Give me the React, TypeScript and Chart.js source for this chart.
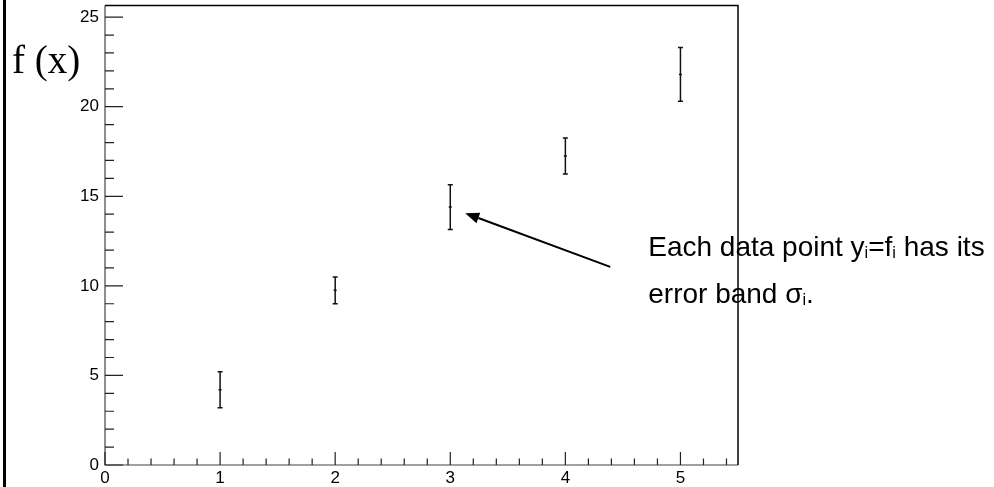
import React, { useEffect, useRef } from "react";
import { Chart, registerables } from "chart.js";

Chart.register(...registerables);

// ---- data ----
const xValues = [1, 2, 3, 4, 5];
const yValues = [4.2, 9.75, 14.4, 17.25, 21.8];
const yErrors = [1.0, 0.75, 1.25, 1.0, 1.5];

const xTickLabels = ["0", "1", "2", "3", "4", "5"];
const yTickLabels = ["0", "5", "10", "15", "20", "25"];
const xMinorStep = 0.2;
const yMinorStep = 1;

const yAxisTitle = "f (x)";
const noteLine1 = [
  { t: "Each data point y" },
  { t: "i", sub: true },
  { t: "=f" },
  { t: "i", sub: true },
  { t: " has its" },
];
const noteLine2 = [{ t: "error band σ" }, { t: "i", sub: true }, { t: "." }];
// annotation anchors in data coordinates
const noteAnchor = { x: 4.72, y: 11.68 };
const noteLineGap = 2.62;
const arrowTail = { x: 4.39, y: 11.06 };
const arrowHead = { x: 3.13, y: 14.06 };

const SANS = '"Liberation Sans", Arial, sans-serif';
const SERIF = '"Liberation Serif", "Times New Roman", serif';

function drawRich(ctx: CanvasRenderingContext2D, parts: any[], x: number, baseline: number, size: number) {
  let cx = x;
  ctx.textBaseline = "alphabetic";
  ctx.textAlign = "left";
  for (const p of parts) {
    const s = p.sub ? size * 0.58 : size;
    ctx.font = `${s}px ${SANS}`;
    ctx.fillText(p.t, cx, baseline + (p.sub ? 2 : 0));
    cx += ctx.measureText(p.t).width;
  }
}

const rootStyle = {
  id: "rootStyle",
  beforeDraw(chart: any) {
    const ctx = chart.ctx as CanvasRenderingContext2D;
    ctx.save();
    ctx.fillStyle = "#fff";
    ctx.fillRect(0, 0, chart.width, chart.height);
    ctx.fillStyle = "#000";
    ctx.fillRect(3, 0, 3, chart.height);
    ctx.restore();
  },
  afterDatasetsDraw(chart: any) {
    const ctx = chart.ctx as CanvasRenderingContext2D;
    const xs = chart.scales.x;
    const ys = chart.scales.y;
    ctx.save();
    ctx.strokeStyle = "#111";
    ctx.lineWidth = 1.5;
    for (let i = 0; i < xValues.length; i++) {
      const px = xs.getPixelForValue(xValues[i]);
      const top = ys.getPixelForValue(yValues[i] + yErrors[i]);
      const bot = ys.getPixelForValue(yValues[i] - yErrors[i]);
      ctx.beginPath();
      ctx.moveTo(px, top);
      ctx.lineTo(px, bot);
      ctx.moveTo(px - 2.5, top);
      ctx.lineTo(px + 2.5, top);
      ctx.moveTo(px - 2.5, bot);
      ctx.lineTo(px + 2.5, bot);
      ctx.stroke();
    }
    ctx.restore();
  },
  afterDraw(chart: any) {
    const ctx = chart.ctx as CanvasRenderingContext2D;
    const xs = chart.scales.x;
    const ys = chart.scales.y;
    const a = chart.chartArea;
    ctx.save();

    // annotation text
    ctx.fillStyle = "#000";
    const nx = xs.getPixelForValue(noteAnchor.x);
    drawRich(ctx, noteLine1, nx, ys.getPixelForValue(noteAnchor.y), 28);
    drawRich(ctx, noteLine2, nx, ys.getPixelForValue(noteAnchor.y - noteLineGap), 28);

    // axes (left & bottom) in dark grey
    ctx.strokeStyle = "#444";
    ctx.lineWidth = 1.2;
    ctx.beginPath();
    ctx.moveTo(a.left, a.top);
    ctx.lineTo(a.left, a.bottom);
    ctx.lineTo(a.right, a.bottom);
    ctx.stroke();

    // ticks
    ctx.strokeStyle = "#222";
    ctx.lineWidth = 1.2;
    ctx.beginPath();
    const yMax = ys.max;
    for (let v = 0; v <= yMax + 1e-9; v += yMinorStep) {
      const major = Math.abs(v / 5 - Math.round(v / 5)) < 1e-6;
      const py = ys.getPixelForValue(v);
      ctx.moveTo(a.left, py);
      ctx.lineTo(a.left + (major ? 18 : 9), py);
    }
    const xMax = xs.max;
    for (let k = 0; k * xMinorStep <= xMax + 1e-9; k++) {
      const v = k * xMinorStep;
      const major = k % 5 === 0;
      const px = xs.getPixelForValue(v);
      ctx.moveTo(px, a.bottom);
      ctx.lineTo(px, a.bottom - (major ? 13 : 6.5));
    }
    ctx.stroke();

    // frame top & right
    ctx.strokeStyle = "#000";
    ctx.lineWidth = 1.5;
    ctx.beginPath();
    ctx.moveTo(a.left, a.top);
    ctx.lineTo(a.right, a.top);
    ctx.lineTo(a.right, a.bottom);
    ctx.stroke();

    // y-axis title
    ctx.fillStyle = "#000";
    ctx.font = `39px ${SERIF}`;
    ctx.textAlign = "left";
    ctx.textBaseline = "alphabetic";
    ctx.fillText(yAxisTitle, 12, 73);

    // arrow
    const tx = xs.getPixelForValue(arrowTail.x);
    const ty = ys.getPixelForValue(arrowTail.y);
    const hx = xs.getPixelForValue(arrowHead.x);
    const hy = ys.getPixelForValue(arrowHead.y);
    const ang = Math.atan2(hy - ty, hx - tx);
    const hl = 14, hw = 5.5;
    const bx = hx - hl * Math.cos(ang);
    const by = hy - hl * Math.sin(ang);
    ctx.strokeStyle = "#000";
    ctx.lineWidth = 2;
    ctx.beginPath();
    ctx.moveTo(tx, ty);
    ctx.lineTo(bx, by);
    ctx.stroke();
    ctx.beginPath();
    ctx.moveTo(hx, hy);
    ctx.lineTo(bx + hw * Math.sin(ang), by - hw * Math.cos(ang));
    ctx.lineTo(bx - hw * Math.sin(ang), by + hw * Math.cos(ang));
    ctx.closePath();
    ctx.fill();

    ctx.restore();
  },
};

export default function App() {
  const ref = useRef<HTMLCanvasElement>(null);
  useEffect(() => {
    if (!ref.current) return;
    const chart = new Chart(ref.current, {
      type: "scatter",
      data: {
        datasets: [
          {
            label: "points",
            data: xValues.map((x, i) => ({ x, y: yValues[i] })),
            pointStyle: "line",
            pointRadius: 1.5,
            borderColor: "#111",
            backgroundColor: "#111",
            borderWidth: 1.5,
            showLine: false,
          },
        ],
      },
      options: {
        responsive: false,
        animation: false,
        devicePixelRatio: 1,
        layout: { padding: { left: 0, top: 5, right: 256, bottom: 0 } },
        plugins: { legend: { display: false }, tooltip: { enabled: false } },
        scales: {
          x: {
            type: "linear",
            min: 0,
            max: 5.5,
            grid: { display: false, drawTicks: false },
            border: { display: false },
            afterFit: (s: any) => {
              s.height = 22;
              s.paddingLeft = 0;
              s.paddingRight = 0;
            },
            ticks: {
              stepSize: 1,
              includeBounds: false,
              padding: 3,
              color: "#000",
              font: { family: SANS, size: 17 },
              maxRotation: 0,
              callback: (v: any) => xTickLabels[Math.round(Number(v))] ?? "",
            },
          },
          y: {
            type: "linear",
            min: 0,
            max: 25.65,
            grid: { display: false, drawTicks: false },
            border: { display: false },
            afterFit: (s: any) => {
              s.width = 105;
              s.paddingTop = 0;
              s.paddingBottom = 0;
            },
            ticks: {
              stepSize: 5,
              includeBounds: false,
              padding: 6,
              color: "#000",
              font: { family: SANS, size: 17 },
              callback: (v: any) => yTickLabels[Math.round(Number(v) / 5)] ?? "",
            },
          },
        },
      },
      plugins: [rootStyle],
    });
    return () => chart.destroy();
  }, []);
  return (
    <div style={{ position: "fixed", left: 0, top: 0, width: 994, height: 487 }}>
      <canvas ref={ref} width={994} height={487} style={{ display: "block" }} />
    </div>
  );
}
